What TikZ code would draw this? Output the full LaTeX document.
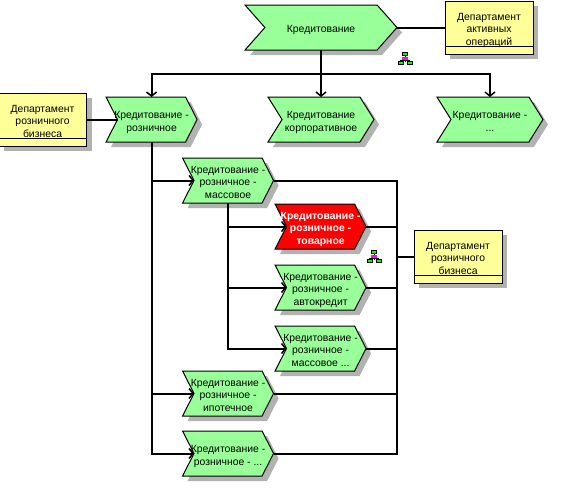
\documentclass[tikz,border=0pt]{standalone}
\usepackage{fontspec}
\setmainfont{Liberation Sans}
\usetikzlibrary{arrows.meta, positioning, shapes.symbols, shadows}
\definecolor{chevgreen}{HTML}{99FF99}
\definecolor{deptyellow}{HTML}{FFFF99}
\definecolor{iconpink}{HTML}{FF00FF}
\definecolor{iconlime}{HTML}{00FF00}
\definecolor{shadowgray}{HTML}{B2B2B2}
\newcommand{\lbl}[1]{\makebox[0pt]{\raisebox{-5.3pt}[0pt][0pt]{\begin{tabular}{@{}c@{}}#1\end{tabular}}}}
\tikzset{
    boxshadow/.style={drop shadow={shadow xshift=5pt, shadow yshift=-5pt, fill=shadowgray, opacity=1}},
    chev/.style={draw, shape=signal, signal from=west, signal to=east, fill=chevgreen, minimum height=45pt, inner sep=0pt, outer sep=0pt, line width=1pt, font=\fontsize{10.4}{12.5}\selectfont, boxshadow},
    chevbig/.style={chev, minimum width=152pt, signal pointer angle=97},
    chevmid/.style={chev, minimum width=106pt, signal pointer angle=116},
    chevsmall/.style={chev, minimum width=91pt, signal pointer angle=126},
    chevred/.style={chevsmall, fill=red, text=white, font=\fontsize{10.4}{12.5}\selectfont\bfseries},
    dept/.style={draw, rectangle, fill=deptyellow, minimum width=88pt, minimum height=53pt, inner sep=0pt, outer sep=0pt, line width=1pt, font=\fontsize{10.4}{12.5}\selectfont, boxshadow,
        path picture={\draw[line width=1pt] ([yshift=7.5pt]path picture bounding box.south west) -- ([yshift=7.5pt]path picture bounding box.south east);}},
    conn/.style={line width=2pt},
    arr/.style={conn, -{Straight Barb[length=4pt, width=10pt, line width=1.5pt]}},
    orgicon/.pic={
        \draw[line width=1pt] (0,4) -- (0,-4) (-4.5,-4) -- (-4.5,-2) -- (4.5,-2) -- (4.5,-4);
        \filldraw[fill=iconlime, line width=1pt] (-2.5,6) rectangle (2.5,2.5);
        \filldraw[fill=iconpink, draw=iconpink, line width=0.5pt] (-2.5,0.5) rectangle (2.5,-1.5);
        \filldraw[fill=iconlime, line width=1pt] (-6.5,-3.5) rectangle (-1.5,-6.5);
        \filldraw[fill=iconlime, line width=1pt] (2,-3.5) rectangle (7,-6.5);
    }
}
\begin{document}
\begin{tikzpicture}[x=1pt, y=1pt]
    \useasboundingbox (0,0) rectangle (561,-499);

    % Top level
    \node[chevbig] (credit) at (321,-27.5) {\lbl{Кредитование}};
    \node[dept, right=48pt of credit] (deptact) {\lbl{Департамент\\активных\\операций}};

    % Second row
    \node[chevmid, below=47pt of credit] (corp) {\lbl{Кредитование\\корпоративное}};
    \node[chevmid, right=77pt of corp] (other) {\lbl{Кредитование -\\...}};
    \node[chevsmall, left=85pt of corp] (retail) {\lbl{Кредитование -\\розничное}};
    \node[dept, left=31pt of retail] (deptleft) {\lbl{Департамент\\розничного\\бизнеса}};

    % Retail branches
    \node[chevsmall, below=16pt of retail, xshift=76.5pt] (mass) {\lbl{Кредитование -\\розничное -\\массовое}};
    \node[chevred, below=1pt of mass, xshift=92.5pt] (goods) {\lbl{Кредитование -\\розничное -\\товарное}};
    \node[chevsmall, below=16pt of goods] (auto) {\lbl{Кредитование -\\розничное -\\автокредит}};
    \node[chevsmall, below=16pt of auto] (massdots) {\lbl{Кредитование -\\розничное -\\массовое ...}};
    \node[chevsmall, below=0pt of massdots, xshift=-92.5pt] (mortgage) {\lbl{Кредитование -\\розничное -\\ипотечное}};
    \node[chevsmall, below=15pt of mortgage] (retaildots) {\lbl{Кредитование -\\розничное - ...}};
    \node[dept, right=48pt of goods, yshift=-30pt] (deptright) {\lbl{Департамент\\розничного\\бизнеса}};

    % Org icons
    \pic at (405,-58) {orgicon};
    \pic at (374,-256) {orgicon};

    % Arrows from the top
    \coordinate (topbus) at ([yshift=-24pt]credit.south);
    \draw[arr] (credit.south) -- (corp.north);
    \draw[arr] (topbus) -| (retail.north);
    \draw[arr] (topbus) -| (other.north);
    \draw[conn] (credit.east) -- (deptact.west);
    \draw[conn] (deptleft.east |- retail.west) -- (retail.west);

    % Retail tree
    \foreach \n in {mass,mortgage,retaildots}
        \draw[arr] (retail.south) |- (\n.west);
    \foreach \n in {goods,auto,massdots}
        \draw[arr] (mass.south) |- (\n.west);

    % Bus on the right
    \draw[conn] (mass.east) -| (retaildots.east -| credit.east) -- (retaildots.east);
    \foreach \n in {goods,auto,massdots,mortgage}
        \draw[conn] (\n.east) -- (\n.east -| credit.east);
    \draw[conn] (deptright.west) -- (deptright.west -| credit.east);
\end{tikzpicture}
\end{document}
